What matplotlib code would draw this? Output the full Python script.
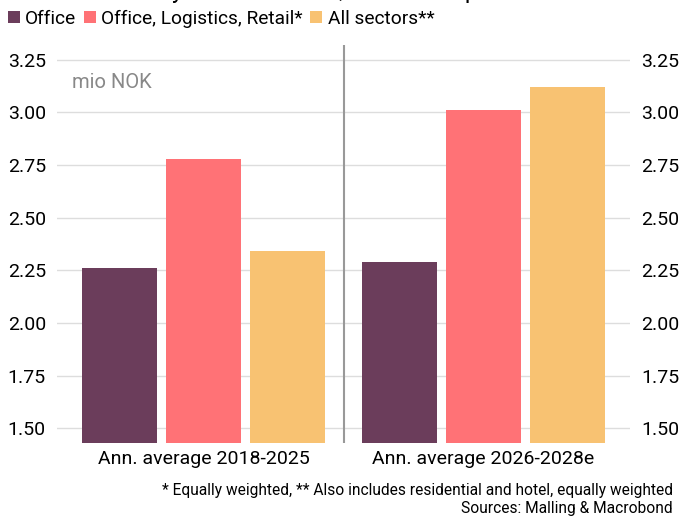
import numpy as np
import matplotlib
matplotlib.use("Agg")
import matplotlib.pyplot as plt

plt.rcParams["font.family"] = ["Roboto", "DejaVu Sans"]

periods = ["Ann. average 2018-2025", "Ann. average 2026-2028e"]
series = ["Office", "Office, Logistics, Retail*", "All sectors**"]
office = [2.26, 2.29]
olr = [2.78, 3.01]
all_sectors = [2.34, 3.12]
colors = ["#6b3d5b", "#ff7276", "#f8c272"]
yticks = [1.50, 1.75, 2.00, 2.25, 2.50, 2.75, 3.00, 3.25]

fig = plt.figure(figsize=(6.81, 5.17), dpi=100)
ax = fig.add_axes([57 / 681, 1 - 443 / 517, 573 / 681, 398 / 517])

x = np.arange(len(periods))
w = 0.268
for i, (vals, c, name) in enumerate(zip([office, olr, all_sectors], colors, series)):
    ax.bar(x + (i - 1) * 0.3, vals, width=w, color=c, label=name, zorder=2)

ax.set_xlim(-0.523, 1.523)
ax.set_ylim(1.43, 3.32)
ax.set_yticks(yticks)
ax.set_yticklabels([f"{t:.2f}" for t in yticks])
ax.grid(axis="y", color="#dddddd", lw=1, zorder=0)
ax.axvline(0.5, color="#999999", lw=1.5, zorder=3)
for s in ax.spines.values():
    s.set_visible(False)
ax.tick_params(axis="y", length=0, labelsize=14, pad=8, labelright=True, right=False)
ax.tick_params(axis="x", length=0, labelsize=14, pad=5)
ax.set_xticks(x)
ax.set_xticklabels(periods)

ax.text(72 / 681, 1 - 82 / 517, "mio NOK", transform=fig.transFigure,
        fontsize=14.5, color="#888888", va="center")

# title is cropped at the top edge in the source image
fig.text(8 / 681, 1 - 3 / 517, "Annual FFO in synthetic models, diversified portfolios",
         fontsize=17, va="bottom", ha="left")

fig.legend(loc="upper left", bbox_to_anchor=(8 / 681, 1 - 10 / 517), ncol=3, frameon=False,
           fontsize=13.8, handlelength=0.6, handleheight=0.6, handletextpad=0.3,
           columnspacing=0.4, borderaxespad=0, borderpad=0)

fig.text(673 / 681, 1 - 491 / 517,
         "* Equally weighted, ** Also includes residential and hotel, equally weighted",
         fontsize=11.2, ha="right", va="center")
fig.text(673 / 681, 1 - 509 / 517, "Sources: Malling & Macrobond",
         fontsize=11.2, ha="right", va="center")

fig.savefig("out.png", dpi=100)
